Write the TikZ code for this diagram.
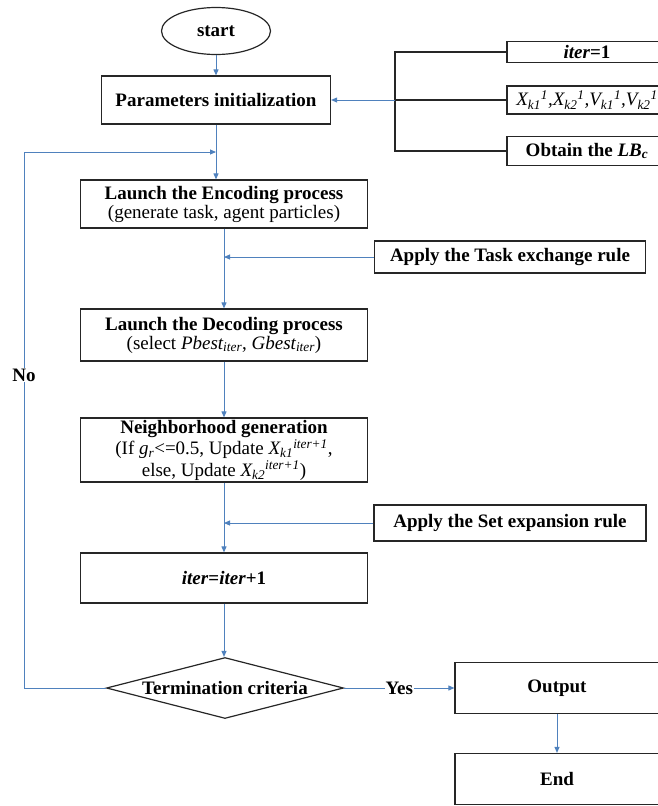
\documentclass[tikz,border=0pt]{standalone}
\usepackage{fontspec}
\setmainfont{Liberation Serif}
\usetikzlibrary{arrows.meta,shapes.geometric,positioning}
\definecolor{flowblue}{RGB}{79,129,189}
\begin{document}
\begin{tikzpicture}[x=1pt,y=-1pt]
        \tikzset{box/.style = {draw=black!85,line width=1.2pt,align=center,inner sep=1pt,
                font=\fontsize{19}{19}\selectfont\bfseries}}
        \tikzset{mainbox/.style = {box,minimum width=287pt}}
        \tikzset{sidebox/.style = {box,minimum width=160pt}}
        \tikzset{decision/.style = {shape=diamond,draw=black!85,line width=1.2pt,aspect=3.88,
                inner sep=0pt,minimum width=237pt,minimum height=61pt,
                font=\fontsize{19}{19}\selectfont\bfseries}}
        \tikzset{flow/.style = {draw=flowblue,line width=0.9pt,-{Triangle[length=6pt,width=5pt]}}}
        \tikzset{brk/.style = {draw=black!85,line width=1.2pt}}
        \tikzset{lbl/.style = {fill=white,inner sep=1pt,font=\fontsize{19}{19}\selectfont\bfseries}}
        \useasboundingbox (0,0) rectangle (657,806);
        % main column
        \node[box,shape=ellipse,minimum width=109pt,minimum height=47pt] (start) at (216,31) {start};
        \node[box,minimum width=229pt,minimum height=48pt] (param) at (216,100) {Parameters initialization};
        \node[mainbox,minimum height=48pt] (enc) at (224,204) {Launch the Encoding process\\
                {\mdseries (generate task, agent particles)}};
        \node[mainbox,minimum height=52pt] (dec) at (224,335) {Launch the Decoding process\\
                {\mdseries (select \textit{Pbest\textsubscript{iter}}, \textit{Gbest\textsubscript{iter}})}};
        \node[mainbox,minimum height=64pt,font=\fontsize{19}{21.5}\selectfont\bfseries] (nbr) at (224,450)
                {Neighborhood generation\\
                {\mdseries (If \textit{g\textsubscript{r}}<=0.5, Update \textit{X\textsubscript{k1}\textsuperscript{iter+1}},}\\
                {\mdseries else, Update \textit{X\textsubscript{k2}\textsuperscript{iter+1}})}};
        \node[mainbox,minimum height=50pt] (iterup) at (224,578) {\textit{iter}=\textit{iter}+1};
        \node[decision] (crit) at (225,688) {Termination criteria};
        % parameters on the right
        \node[sidebox,minimum height=21pt] (p1) at (587,52) {\textit{iter}=1};
        \node[sidebox,minimum height=28pt] (p2) at (587,100) {\mdseries\itshape
                X\textsubscript{k1}\textsuperscript{1},X\textsubscript{k2}\textsuperscript{1},V\textsubscript{k1}\textsuperscript{1},V\textsubscript{k2}\textsuperscript{1}};
        \node[sidebox,minimum height=29pt] (p3) at (587,151) {Obtain the \textit{LB\textsubscript{c}}};
        % rules
        \node[box,minimum width=271pt,minimum height=32pt] (task) at (510,257) {Apply the Task exchange rule};
        \node[box,minimum width=272pt,minimum height=36pt] (setexp) at (510,523) {Apply the Set expansion rule};
        % ending
        \node[box,minimum width=204pt,minimum height=51pt] (out) at (557,688) {Output};
        \node[box,minimum width=204pt,minimum height=51pt] (end) at (557,779) {End};
        \coordinate (join) at (395,100);
        \coordinate (loopin) at (216,152);
        \coordinate (loopcorner) at (24,152);
        % edges
        \draw[flow] (start) -- (param);
        \draw[flow] (param.south) -- (param.south |- enc.north);
        \draw[brk] (p1.west) -| (join) |- (p3.west);
        \draw[brk] (p2.west) -- (join);
        \draw[flow] (join) -- (param.east);
        \draw[flow] (enc.south) -- (dec.north);
        \draw[flow] (task.west) -- (task.west -| enc.south);
        \draw[flow] (dec.south) -- (nbr.north);
        \draw[flow] (nbr.south) -- (iterup.north);
        \draw[flow] (setexp.west) -- (setexp.west -| nbr.south);
        \draw[flow] (iterup.south) -- (iterup.south |- crit.north);
        \draw[flow] (crit.west) -| (loopcorner) -- (loopin);
        \node[lbl] (no) at (24,375) {No};
        \draw[flow] (crit.east) -- node[lbl] (yes) {Yes} (out.west);
        \draw[flow] (out) -- (end);
\end{tikzpicture}
\end{document}
